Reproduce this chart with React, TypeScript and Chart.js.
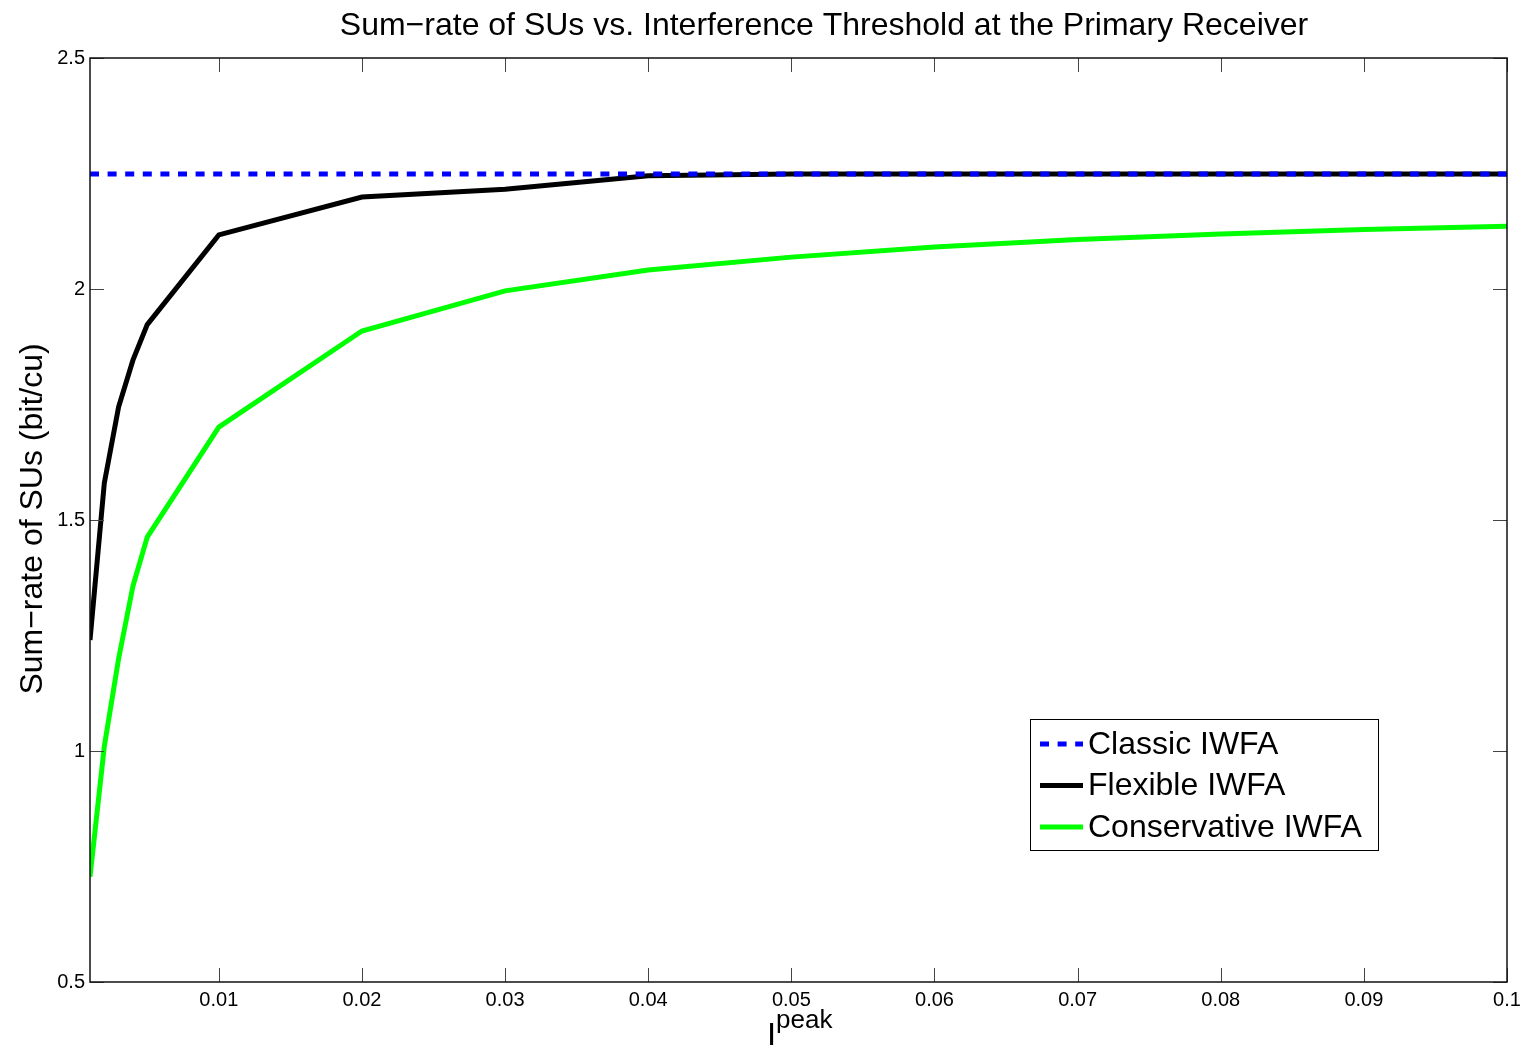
import { useEffect, useRef } from "react";
import { Chart, registerables } from "chart.js";

Chart.register(...registerables);

const xValues = [0.001, 0.002, 0.003, 0.004, 0.005, 0.01, 0.02, 0.03, 0.04, 0.05, 0.06, 0.07, 0.08, 0.09, 0.1];
const classicIWFA = [2.249, 2.249, 2.249, 2.249, 2.249, 2.249, 2.249, 2.249, 2.249, 2.249, 2.249, 2.249, 2.249, 2.249, 2.249];
const flexibleIWFA = [1.24, 1.58, 1.745, 1.846, 1.923, 2.117, 2.199, 2.216, 2.245, 2.249, 2.249, 2.249, 2.249, 2.249, 2.249];
const conservativeIWFA = [0.728, 1.01, 1.2, 1.357, 1.463, 1.701, 1.909, 1.996, 2.041, 2.069, 2.091, 2.107, 2.119, 2.129, 2.136];

const seriesLabels = ["Classic IWFA", "Flexible IWFA", "Conservative IWFA"];
const xTickValues = [0.01, 0.02, 0.03, 0.04, 0.05, 0.06, 0.07, 0.08, 0.09, 0.1];
const xTickLabels = ["0.01", "0.02", "0.03", "0.04", "0.05", "0.06", "0.07", "0.08", "0.09", "0.1"];
const yTickValues = [0.5, 1, 1.5, 2, 2.5];
const yTickLabels = ["0.5", "1", "1.5", "2", "2.5"];

const titleText = "Sum\u2212rate of SUs vs. Interference Threshold at the Primary Receiver";
const yLabelText = "Sum\u2212rate of SUs (bit/cu)";
const xLabelMain = "I";
const xLabelSup = "peak";

const FONT = '"Liberation Sans", Arial, Helvetica, sans-serif';

const toPoints = (ys: number[]) => xValues.map((x, i) => ({ x, y: ys[i] }));

const decorPlugin = {
  id: "matlabDecor",
  afterDatasetsDraw(chart: any) {
    const { ctx, chartArea: a, scales } = chart;
    const xs = scales.x;
    const ys = scales.y;
    ctx.save();
    // inner tick marks
    ctx.strokeStyle = "#444";
    ctx.lineWidth = 1;
    const tl = 14;
    xTickValues.forEach((v) => {
      const px = Math.round(xs.getPixelForValue(v)) + 0.5;
      ctx.beginPath();
      ctx.moveTo(px, a.bottom);
      ctx.lineTo(px, a.bottom - tl);
      ctx.moveTo(px, a.top);
      ctx.lineTo(px, a.top + tl);
      ctx.stroke();
    });
    yTickValues.forEach((v) => {
      const py = Math.round(ys.getPixelForValue(v)) + 0.5;
      ctx.beginPath();
      ctx.moveTo(a.left, py);
      ctx.lineTo(a.left + tl, py);
      ctx.moveTo(a.right, py);
      ctx.lineTo(a.right - tl, py);
      ctx.stroke();
    });
    // axes box
    ctx.strokeStyle = "#111";
    ctx.lineWidth = 1.5;
    ctx.strokeRect(a.left, a.top, a.right - a.left, a.bottom - a.top);

    // legend
    const lx = 1030.5, ly = 719.5, lw = 348, lh = 131;
    ctx.fillStyle = "#fff";
    ctx.fillRect(lx, ly, lw, lh);
    ctx.strokeStyle = "#000";
    ctx.lineWidth = 1;
    ctx.strokeRect(lx, ly, lw, lh);
    const rowY = [744, 785.5, 827];
    ctx.font = `32px ${FONT}`;
    ctx.textBaseline = "middle";
    ctx.textAlign = "left";
    chart.data.datasets.forEach((ds: any, i: number) => {
      ctx.beginPath();
      ctx.strokeStyle = ds.borderColor;
      ctx.lineWidth = ds.borderWidth;
      ctx.setLineDash(ds.borderDash || []);
      ctx.moveTo(1040, rowY[i]);
      ctx.lineTo(1083, rowY[i]);
      ctx.stroke();
      ctx.setLineDash([]);
      ctx.fillStyle = "#000";
      ctx.fillText(ds.label, 1088, rowY[i] + 1);
    });

    // title
    ctx.fillStyle = "#000";
    ctx.font = `32px ${FONT}`;
    ctx.textAlign = "center";
    ctx.textBaseline = "alphabetic";
    ctx.fillText(titleText, 824, 35);

    // y label
    ctx.save();
    ctx.translate(33, 519);
    ctx.rotate(-Math.PI / 2);
    ctx.textAlign = "center";
    ctx.textBaseline = "middle";
    ctx.font = `32px ${FONT}`;
    ctx.fillText(yLabelText, 0, 0);
    ctx.restore();

    // x label
    ctx.textAlign = "left";
    ctx.textBaseline = "alphabetic";
    ctx.font = `33px ${FONT}`;
    ctx.fillText(xLabelMain, 767, 1046);
    ctx.font = `26px ${FONT}`;
    ctx.fillText(xLabelSup, 776, 1028);
    ctx.restore();
  },
};

export default function App() {
  const canvasRef = useRef<HTMLCanvasElement | null>(null);

  useEffect(() => {
    if (!canvasRef.current) return;
    const chart = new Chart(canvasRef.current, {
      type: "line",
      data: {
        datasets: [
          {
            label: seriesLabels[0],
            data: toPoints(classicIWFA),
            borderColor: "#0000ff",
            borderWidth: 5,
            borderDash: [9, 8.6],
            borderCapStyle: "butt",
            pointRadius: 0,
            tension: 0,
            fill: false,
          },
          {
            label: seriesLabels[1],
            data: toPoints(flexibleIWFA),
            borderColor: "#000000",
            borderWidth: 5,
            pointRadius: 0,
            tension: 0,
            fill: false,
          },
          {
            label: seriesLabels[2],
            data: toPoints(conservativeIWFA),
            borderColor: "#00ff00",
            borderWidth: 5,
            pointRadius: 0,
            tension: 0,
            fill: false,
          },
        ],
      },
      options: {
        responsive: false,
        animation: false,
        events: [],
        layout: { padding: { left: 0, top: 58, right: 20, bottom: 0 } },
        plugins: {
          legend: { display: false },
          title: { display: false },
          tooltip: { enabled: false },
        },
        scales: {
          x: {
            type: "linear",
            min: 0.001,
            max: 0.1,
            grid: { display: false, drawTicks: false },
            border: { display: false },
            afterBuildTicks: (scale: any) => {
              scale.ticks = xTickValues.map((v) => ({ value: v }));
            },
            afterFit: (scale: any) => {
              scale.height = 63;
            },
            ticks: {
              autoSkip: false,
              maxRotation: 0,
              padding: 6,
              color: "#000",
              font: { family: FONT, size: 20 },
              callback: (value: any) => {
                const idx = xTickValues.findIndex((v) => Math.abs(v - Number(value)) < 1e-9);
                return idx >= 0 ? xTickLabels[idx] : "";
              },
            },
          },
          y: {
            type: "linear",
            min: 0.5,
            max: 2.5,
            grid: { display: false, drawTicks: false },
            border: { display: false },
            afterBuildTicks: (scale: any) => {
              scale.ticks = yTickValues.map((v) => ({ value: v }));
            },
            afterFit: (scale: any) => {
              scale.width = 90;
            },
            ticks: {
              padding: 5,
              color: "#000",
              font: { family: FONT, size: 20 },
              callback: (value: any) => {
                const idx = yTickValues.findIndex((v) => Math.abs(v - Number(value)) < 1e-9);
                return idx >= 0 ? yTickLabels[idx] : "";
              },
            },
          },
        },
      },
      plugins: [decorPlugin],
    } as any);
    return () => chart.destroy();
  }, []);

  return (
    <div style={{ position: "fixed", left: 0, top: 0, width: 1527, height: 1045, background: "#fff" }}>
      <canvas ref={canvasRef} width={1527} height={1045} style={{ width: 1527, height: 1045, display: "block" }} />
    </div>
  );
}
